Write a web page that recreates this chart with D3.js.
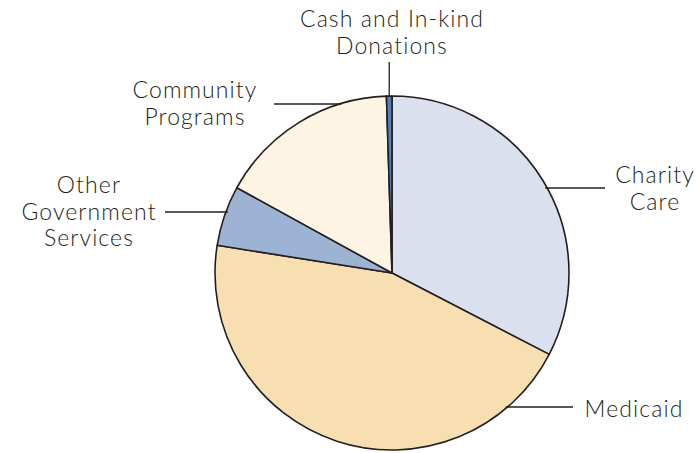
<!DOCTYPE html>
<html>
<head>
<meta charset="utf-8">
<script src="https://cdn.jsdelivr.net/npm/d3@7"></script>
<style>
  body { margin: 0; background: #fff; }
  text { font-family: Lato, "Open Sans", sans-serif; font-weight: 300; fill: #231f20; font-size: 23px; letter-spacing: 1.1px; }
</style>
</head>
<body>
<svg id="chart" width="700" height="453"></svg>
<script>
// slices clockwise from 12 o'clock, percent share
const categories = ['Charity Care', 'Medicaid', 'Other Government Services', 'Community Programs', 'Cash and In-kind Donations'];
const shares = [32.6, 44.9, 5.5, 16.5, 0.5];
const colors = ['#dae0ee', '#f8dfb2', '#9db3d3', '#fdf4e4', '#5482b7'];

// label layout: text lines, anchor, leader line
const labels = [
  { lines: ['Charity', 'Care'], x: 655, y: 183, ly: 188, lx: 605, side: 'right' },
  { lines: ['Medicaid'], x: 634, y: 417, ly: 407, lx: 573, side: 'right' },
  { lines: ['Other', 'Government', 'Services'], x: 89, y: 193, ly: 212, lx: 165, side: 'left' },
  { lines: ['Community', 'Programs'], x: 195, y: 98, ly: 104, lx: 274, side: 'left' },
  { lines: ['Cash and In-kind', 'Donations'], x: 392, y: 27, top: true }
];

const cx = 392, cy = 273, radius = 177;
const lineH = 26.5;

const svg = d3.select('#chart');
const g = svg.append('g').attr('transform', `translate(${cx}, ${cy})`);

const pie = d3.pie().sort(null).value(d => d);
const arc = d3.arc().innerRadius(0).outerRadius(radius);

g.selectAll('path.slice')
  .data(pie(shares))
  .enter()
  .append('path')
  .attr('class', 'slice')
  .attr('d', arc)
  .attr('fill', (d, i) => colors[i])
  .attr('stroke', '#231f20')
  .attr('stroke-width', 1.6)
  .attr('stroke-linejoin', 'round');

labels.forEach((l, i) => {
  l.lines.forEach((s, k) => {
    svg.append('text')
      .attr('text-anchor', 'middle')
      .attr('x', l.x)
      .attr('y', l.y + k * lineH)
      .text(s);
  });

  let x1, y1, x2, y2;
  if (l.top) {
    // vertical leader down to the small slice's middle
    const a = pie(shares)[i];
    const mid = (a.startAngle + a.endAngle) / 2;
    x1 = x2 = cx + radius * Math.sin(mid);
    y1 = 62;
    y2 = cy - radius * Math.cos(mid);
  } else {
    const dy = l.ly - cy;
    const dx = Math.sqrt(radius * radius - dy * dy);
    x1 = l.side === 'right' ? cx + dx - 2 : cx - dx + 2;
    y1 = y2 = l.ly;
    x2 = l.lx;
  }
  svg.append('line')
    .attr('x1', x1).attr('y1', y1).attr('x2', x2).attr('y2', y2)
    .attr('stroke', '#231f20')
    .attr('stroke-width', 1.3);
});
</script>
</body>
</html>
